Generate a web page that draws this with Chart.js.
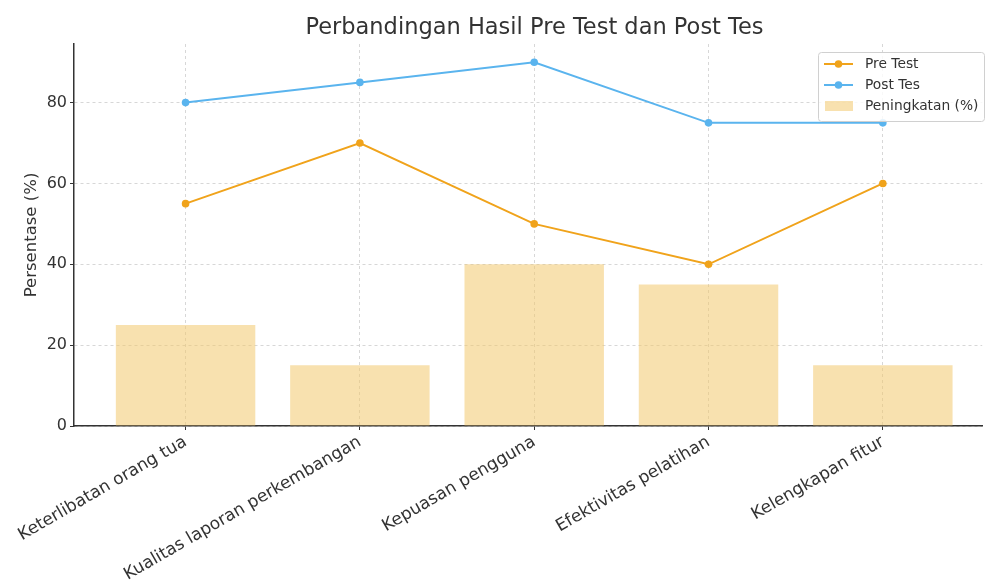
<!DOCTYPE html>
<html>
<head>
<meta charset="utf-8">
<script src="https://cdn.jsdelivr.net/npm/chart.js@4.4.1/dist/chart.umd.min.js"></script>
<style>
  html, body { margin: 0; padding: 0; background: #fff; overflow: hidden; }
  #wrap { width: 986px; height: 581px; }
</style>
</head>
<body>
<div id="wrap"><canvas id="c" width="986" height="581"></canvas></div>
<script>
const categories = ["Keterlibatan orang tua", "Kualitas laporan perkembangan", "Kepuasan pengguna", "Efektivitas pelatihan", "Kelengkapan fitur"];
const preTest = [55, 70, 50, 40, 60];
const postTes = [80, 85, 90, 75, 75];
const peningkatan = [25, 15, 40, 35, 15];
const yTicks = [0, 20, 40, 60, 80];
const chartTitle = 'Perbandingan Hasil Pre Test dan Post Tes';

const FONT = "'DejaVu Sans', sans-serif";
const TXT = '#333333';
const ORANGE = '#f0a31b';
const BLUE = '#5ab4ee';
const BARC = 'rgba(242, 200, 110, 0.55)';

const toXY = arr => arr.map((v, i) => ({ x: i, y: v }));

const decorPlugin = {
  id: 'decor',
  afterDraw(chart) {
    const ctx = chart.ctx;
    const ca = chart.chartArea;
    ctx.save();
    ctx.fillStyle = TXT;
    ctx.font = '22.5px ' + FONT;
    ctx.textAlign = 'center';
    ctx.textBaseline = 'middle';
    ctx.fillText(chartTitle, (ca.left + 995) / 2, 28.5);

    const x0 = 818, y0 = 52, w = 166, h = 69;
    ctx.fillStyle = 'rgba(255,255,255,0.85)';
    ctx.strokeStyle = '#d0d0d0';
    ctx.lineWidth = 1;
    ctx.beginPath();
    ctx.roundRect(x0 + 0.5, y0 + 0.5, w, h, 3);
    ctx.fill();
    ctx.stroke();
    const items = [
      { label: 'Pre Test', color: ORANGE, type: 'line' },
      { label: 'Post Tes', color: BLUE, type: 'line' },
      { label: 'Peningkatan (%)', color: BARC, type: 'box' }
    ];
    ctx.font = '13.8px ' + FONT;
    ctx.textBaseline = 'middle';
    ctx.textAlign = 'left';
    items.forEach((it, i) => {
      const cy = 64 + i * 21;
      if (it.type === 'line') {
        ctx.strokeStyle = it.color;
        ctx.lineWidth = 2;
        ctx.beginPath();
        ctx.moveTo(824, cy);
        ctx.lineTo(853, cy);
        ctx.stroke();
        ctx.fillStyle = it.color;
        ctx.beginPath();
        ctx.arc(838.5, cy, 3.8, 0, Math.PI * 2);
        ctx.fill();
      } else {
        ctx.fillStyle = it.color;
        ctx.fillRect(825, cy - 5, 28, 10);
      }
      ctx.fillStyle = TXT;
      ctx.fillText(it.label, 865, cy);
    });
    ctx.restore();
  }
};

new Chart(document.getElementById('c'), {
  type: 'bar',
  data: {
    datasets: [
      {
        type: 'line', label: 'Pre Test', data: toXY(preTest),
        borderColor: ORANGE, backgroundColor: ORANGE, borderWidth: 2,
        pointRadius: 3.8, pointHoverRadius: 3.8, pointBorderWidth: 0, order: 1
      },
      {
        type: 'line', label: 'Post Tes', data: toXY(postTes),
        borderColor: BLUE, backgroundColor: BLUE, borderWidth: 2,
        pointRadius: 3.8, pointHoverRadius: 3.8, pointBorderWidth: 0, order: 2
      },
      {
        type: 'bar', label: 'Peningkatan (%)', data: toXY(peningkatan),
        backgroundColor: BARC, borderWidth: 0,
        barPercentage: 1.0, categoryPercentage: 0.8, order: 3
      }
    ]
  },
  options: {
    responsive: false,
    animation: false,
    layout: { padding: { top: 44, left: 0, right: 0, bottom: 0 } },
    plugins: {
      legend: { display: false },
      tooltip: { enabled: false },
      title: { display: false }
    },
    scales: {
      x: {
        type: 'linear',
        min: -0.64,
        max: 4.57,
        offset: false,
        afterBuildTicks(axis) { axis.ticks = categories.map((_, i) => ({ value: i })); },
        afterFit(scale) { scale.height = 155; },
        ticks: {
          color: TXT,
          font: { family: FONT, size: 17 },
          maxRotation: 30, minRotation: 30,
          autoSkip: false,
          padding: 2,
          callback: v => categories[v]
        },
        grid: {
          display: true, offset: false,
          color: 'rgba(205,205,205,0.8)',
          lineWidth: 1,
          drawTicks: true, tickLength: 4, tickColor: '#333', tickWidth: 1
        },
        border: { display: true, color: '#333', width: 1.5, dash: [3, 3] }
      },
      y: {
        min: 0,
        max: 94.5,
        afterBuildTicks(axis) { axis.ticks = yTicks.map(v => ({ value: v })); },
        afterFit(scale) { scale.width = 74; },
        ticks: {
          color: TXT,
          font: { family: FONT, size: 16 },
          padding: 3
        },
        grid: {
          color: 'rgba(205,205,205,0.8)',
          lineWidth: 1,
          drawTicks: true, tickLength: 4, tickColor: '#333', tickWidth: 1
        },
        border: { display: true, color: '#333', width: 1.5, dash: [3, 3] },
        title: {
          display: true,
          text: 'Persentase (%)',
          color: TXT,
          font: { family: FONT, size: 16.5 },
          padding: { top: 22, bottom: 0 }
        }
      }
    }
  },
  plugins: [decorPlugin]
});
</script>
</body>
</html>
